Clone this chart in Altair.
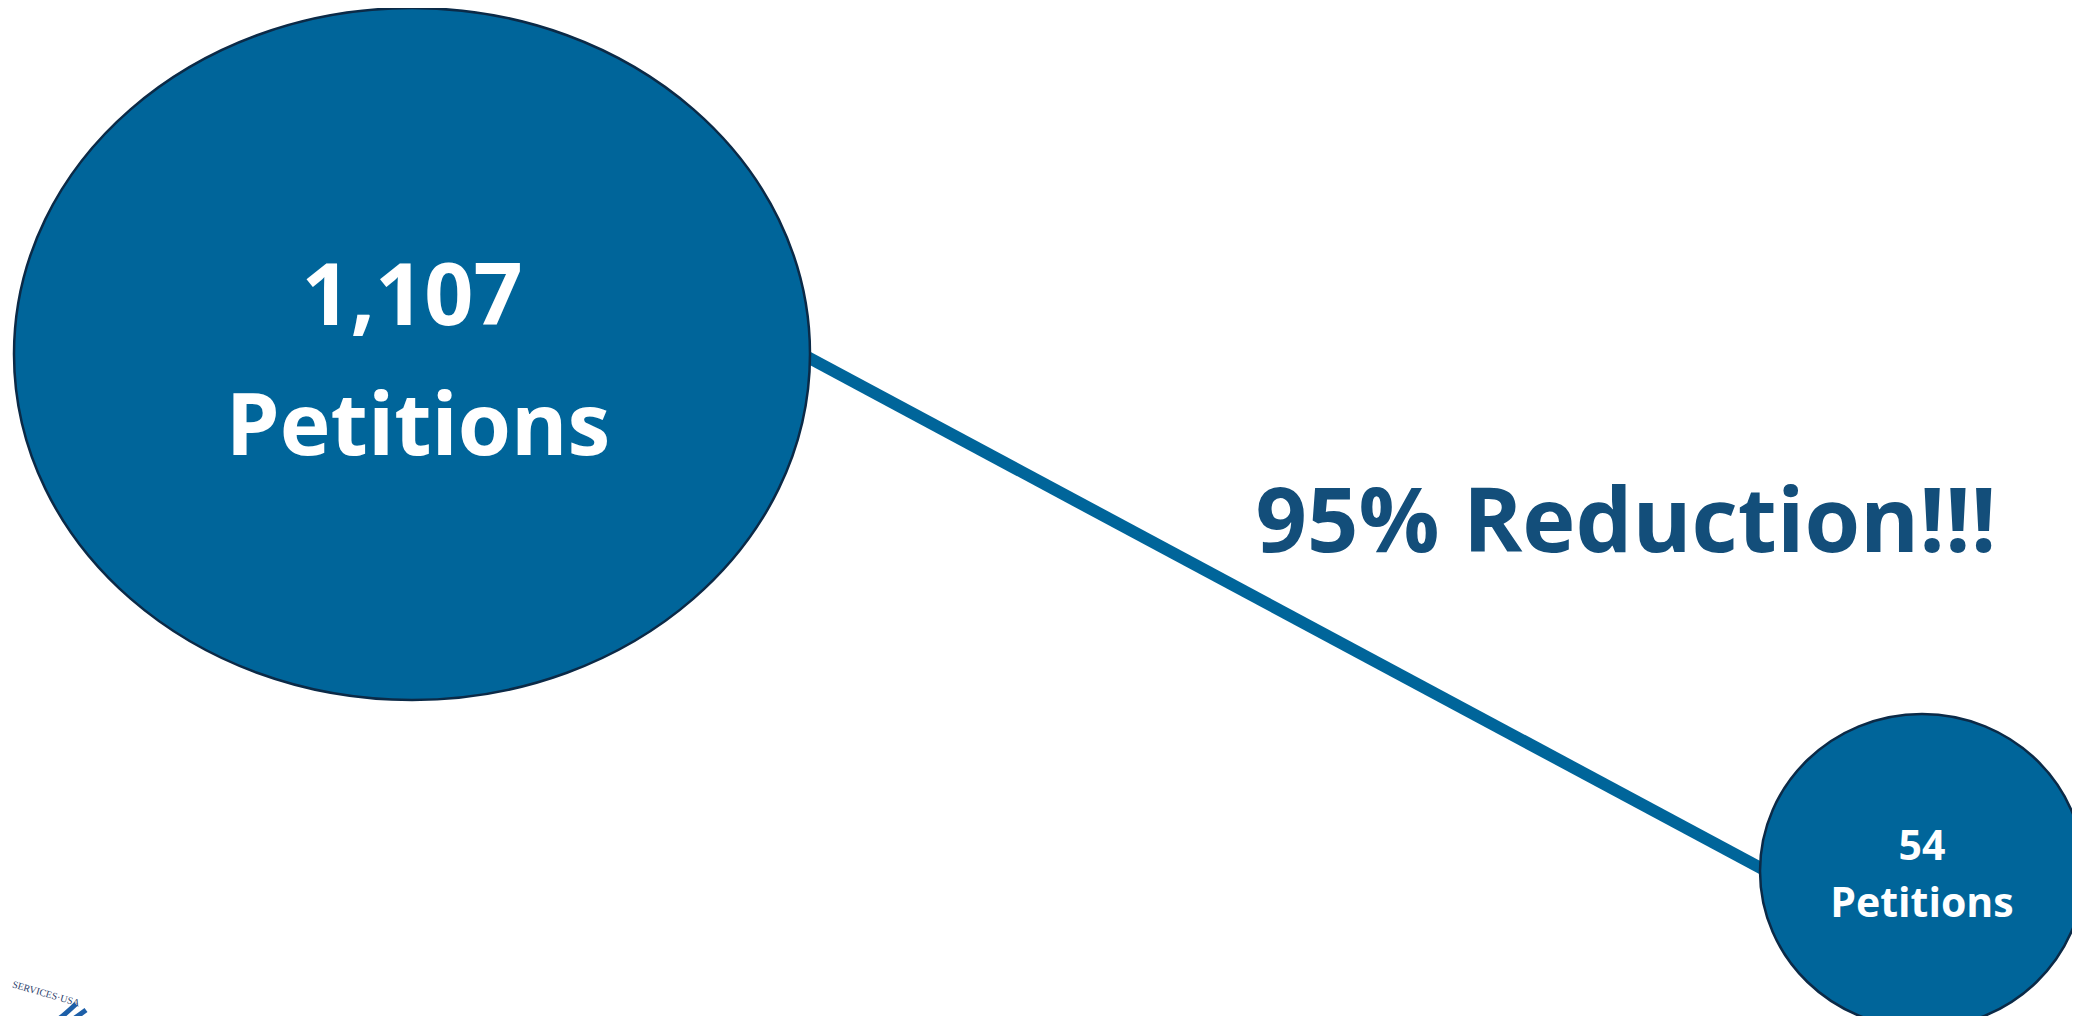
import altair as alt
import pandas as pd

# ---- content ----
counts = [1107, 54]
count_labels = ["1,107", "54"]
unit_label = "Petitions"
reduction_label = "95% Reduction!!!"
seal_label = "SERVICES·USA"

# ---- layout (reference pixel space) ----
ell_x = [412, 1922]
ell_y = [354, 871]
ell_rx = [398, 162]
ell_ry = [346, 157]
line_x = [800, 1770]
line_y = [353, 873]
red_x, red_y = 1626, 552
num_y = [325, 860]
unit_x = [418, 1922]
unit_y = [455, 917]
font_sizes = [86, 41]

FONT = "Open Sans"
FILL = "#00659A"
EDGE = "#0B2A47"
TXT_BLUE = "#134E7A"

W, H = 2064, 1008
xs = alt.Scale(domain=[8, 8 + W], nice=False, zero=False)
ys = alt.Scale(domain=[8, 8 + H], nice=False, zero=False, reverse=True)
X = lambda f: alt.X(f, type="quantitative", scale=xs, axis=None)
Y = lambda f: alt.Y(f, type="quantitative", scale=ys, axis=None)


def ellipse_path(ratio):
    k = 0.5523
    r = ratio
    return (f"M 1 0 C 1 {r*k:.4f} {k} {r:.4f} 0 {r:.4f} "
            f"C {-k} {r:.4f} -1 {r*k:.4f} -1 0 "
            f"C -1 {-r*k:.4f} {-k} {-r:.4f} 0 {-r:.4f} "
            f"C {k} {-r:.4f} 1 {-r*k:.4f} 1 0 Z")


ell_df = pd.DataFrame({
    "count": counts,
    "x": ell_x,
    "y": ell_y,
    "size": [(2 * rx) ** 2 for rx in ell_rx],
    "path": [ellipse_path(ry / rx) for rx, ry in zip(ell_rx, ell_ry)],
})

line_df = pd.DataFrame({"x": line_x, "y": line_y, "o": [0, 1]})

text_df = pd.DataFrame({
    "label": count_labels + [unit_label, unit_label],
    "x": ell_x + unit_x,
    "y": num_y + unit_y,
    "fs": font_sizes + font_sizes,
})

red_df = pd.DataFrame({"label": [reduction_label], "x": [red_x], "y": [red_y]})

seal_df = pd.DataFrame({"label": [seal_label], "x": [46], "y": [994]})
swoosh_df = pd.DataFrame({
    "x": [40, 60, 76, 56, 72, 86],
    "y": [1030, 1018, 1004, 1030, 1020, 1010],
    "g": ["a", "a", "a", "b", "b", "b"],
})

connector = alt.Chart(line_df).mark_line(
    color=FILL, strokeWidth=12, strokeCap="butt", clip=True
).encode(x=X("x"), y=Y("y"), order="o:Q")

ellipses = alt.Chart(ell_df).mark_point(
    filled=True, fill=FILL, stroke=EDGE, strokeWidth=2.5,
    opacity=1, fillOpacity=1, strokeOpacity=1, clip=True
).encode(
    x=X("x"), y=Y("y"),
    size=alt.Size("size:Q", scale=None, legend=None),
    shape=alt.Shape("path:N", scale=None, legend=None),
)

labels = alt.Chart(text_df).mark_text(
    font=FONT, fontWeight="bold", color="white",
    align="center", baseline="alphabetic"
).encode(
    x=X("x"), y=Y("y"), text="label:N",
    size=alt.Size("fs:Q", scale=None, legend=None),
)

reduction = alt.Chart(red_df).mark_text(
    font=FONT, fontWeight="bold", color=TXT_BLUE, fontSize=90,
    align="center", baseline="alphabetic"
).encode(x=X("x"), y=Y("y"), text="label:N")

seal_text = alt.Chart(seal_df).mark_text(
    font="Liberation Serif", fontSize=10, color="#2C3E6B", angle=16,
    align="center", baseline="middle"
).encode(x=X("x"), y=Y("y"), text="label:N")

swoosh = alt.Chart(swoosh_df).mark_line(
    color="#1D5FA8", strokeWidth=5, interpolate="monotone", clip=True
).encode(x=X("x"), y=Y("y"), detail="g:N")

chart = alt.layer(
    connector, ellipses, labels, reduction, seal_text, swoosh
).properties(
    width=W, height=H, padding=0, autosize=alt.AutoSizeParams(type="none")
).configure_view(stroke=None)

chart.save("out.html", embed_options={"renderer": "svg", "actions": False})
